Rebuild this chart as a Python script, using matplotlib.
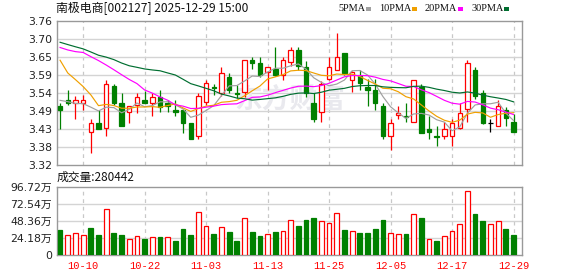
import matplotlib
matplotlib.use("Agg")
import matplotlib.pyplot as plt
import numpy as np

# ---- data ---------------------------------------------------------------
dates = ["09-29", "09-30", "10-09", "10-10", "10-13", "10-14", "10-15", "10-16", "10-17", "10-20",
         "10-21", "10-22", "10-23", "10-24", "10-27", "10-28", "10-29", "10-30", "10-31", "11-03",
         "11-04", "11-05", "11-06", "11-07", "11-10", "11-11", "11-12", "11-13", "11-14", "11-17",
         "11-18", "11-19", "11-20", "11-21", "11-24", "11-25", "11-26", "11-27", "11-28", "12-01",
         "12-02", "12-03", "12-04", "12-05", "12-08", "12-09", "12-10", "12-11", "12-12", "12-15",
         "12-16", "12-17", "12-18", "12-19", "12-22", "12-23", "12-24", "12-25", "12-26", "12-29"]

opens = [3.500, 3.517, 3.510, 3.510, 3.419, 3.446, 3.431, 3.560, 3.507, 3.481,
         3.503, 3.518, 3.510, 3.528, 3.507, 3.487, 3.487, 3.446, 3.409, 3.511,
         3.558, 3.540, 3.587, 3.538, 3.541, 3.640, 3.632, 3.602, 3.611, 3.594,
         3.633, 3.670, 3.617, 3.507, 3.480, 3.582, 3.610, 3.662, 3.580, 3.590,
         3.558, 3.549, 3.500, 3.409, 3.471, 3.469, 3.449, 3.558, 3.430, 3.407,
         3.409, 3.409, 3.431, 3.490, 3.609, 3.538, 3.447, 3.439, 3.487, 3.449]
highs = [3.508, 3.548, 3.529, 3.534, 3.459, 3.486, 3.578, 3.566, 3.538, 3.500,
         3.538, 3.545, 3.538, 3.548, 3.518, 3.518, 3.487, 3.446, 3.538, 3.580,
         3.567, 3.619, 3.599, 3.564, 3.641, 3.650, 3.650, 3.619, 3.680, 3.648,
         3.680, 3.680, 3.638, 3.538, 3.575, 3.648, 3.723, 3.662, 3.606, 3.608,
         3.582, 3.582, 3.510, 3.459, 3.500, 3.508, 3.580, 3.568, 3.470, 3.437,
         3.449, 3.459, 3.507, 3.640, 3.619, 3.548, 3.459, 3.518, 3.497, 3.475]
lows = [3.430, 3.501, 3.460, 3.488, 3.357, 3.430, 3.408, 3.503, 3.437, 3.448,
        3.479, 3.508, 3.469, 3.480, 3.480, 3.470, 3.418, 3.399, 3.400, 3.502,
        3.532, 3.530, 3.538, 3.524, 3.528, 3.612, 3.588, 3.548, 3.590, 3.579,
        3.622, 3.609, 3.528, 3.449, 3.449, 3.579, 3.610, 3.593, 3.541, 3.549,
        3.500, 3.488, 3.400, 3.366, 3.459, 3.449, 3.449, 3.418, 3.400, 3.378,
        3.400, 3.378, 3.430, 3.449, 3.521, 3.445, 3.419, 3.437, 3.439, 3.419]
closes = [3.488, 3.510, 3.517, 3.518, 3.446, 3.430, 3.568, 3.510, 3.439, 3.498,
          3.528, 3.510, 3.528, 3.496, 3.500, 3.480, 3.448, 3.400, 3.530, 3.570,
          3.555, 3.601, 3.548, 3.535, 3.639, 3.632, 3.593, 3.617, 3.593, 3.639,
          3.669, 3.621, 3.538, 3.461, 3.568, 3.617, 3.648, 3.600, 3.603, 3.571,
          3.549, 3.510, 3.409, 3.446, 3.477, 3.465, 3.578, 3.418, 3.421, 3.405,
          3.429, 3.446, 3.477, 3.630, 3.531, 3.446, 3.447, 3.500, 3.463, 3.419]
# volume in lots (手)
volumes = [354000, 278000, 307000, 278000, 382000, 283000, 651000, 311000, 283000, 222000,
           264000, 226000, 250000, 255000, 255000, 198000, 368000, 283000, 604000, 406000,
           297000, 396000, 326000, 198000, 524000, 326000, 269000, 293000, 326000, 335000,
           491000, 410000, 495000, 524000, 477000, 448000, 590000, 354000, 335000, 311000,
           311000, 368000, 495000, 307000, 293000, 297000, 576000, 524000, 222000, 198000,
           264000, 335000, 434000, 901000, 580000, 477000, 434000, 477000, 368000, 280442]
# closes of the 29 sessions before 09-29, seeding the moving averages
prior_closes = [3.72, 3.72, 3.71, 3.73, 3.73, 3.74, 3.74, 3.75, 3.75, 3.67,
                3.66, 3.62, 3.57, 3.70, 3.67, 3.84, 3.80, 3.74, 3.79, 3.78,
                3.90, 3.72, 3.73, 3.70, 3.76,
                3.53, 3.545, 3.52, 3.50]

price_ticks = [3.32, 3.375, 3.43, 3.485, 3.54, 3.595, 3.65, 3.705, 3.76]
price_tick_labels = ["3.32", "3.38", "3.43", "3.49", "3.54", "3.59", "3.65", "3.70", "3.76"]
volume_ticks = [0, 241800, 483600, 725400, 967200]
volume_tick_labels = ["0", "24.18万", "48.36万", "72.54万", "96.72万"]
date_labels = ["10-10", "10-22", "11-03", "11-13", "11-25", "12-05", "12-17", "12-29"]
ma_windows = [5, 10, 20, 30]
ma_names = ["5PMA", "10PMA", "20PMA", "30PMA"]

# ---- styling -------------------------------------------------------------
RED = "#ff0000"
GREEN = "#008000"
GRID = "#d4d4d4"
SPINE = "#999999"
ma_colors = ["#a0a0a0", "#f0a000", "#ff00ff", "#006e30"]
CJK = ["Noto Sans CJK SC", "DejaVu Sans"]
NUM = ["DejaVu Sans", "Noto Sans CJK SC"]

o = np.array(opens)
h = np.array(highs)
l = np.array(lows)
c = np.array(closes)
v = np.array(volumes)
n = len(c)
x = np.arange(n)

# simple moving averages of the close
full = np.concatenate([prior_closes, c])
off = len(prior_closes)
mas = []
for w in ma_windows:
    mas.append(np.array([full[off + i - w + 1: off + i + 1].mean() for i in range(n)]))

fig = plt.figure(figsize=(5.78, 2.76), dpi=100)
fig.patch.set_facecolor("white")

ax = fig.add_axes([57 / 578, 1 - 164.7 / 276, 465 / 578, 144 / 276])
axv = fig.add_axes([57 / 578, 1 - 255 / 276, 465 / 578, 68.3 / 276])

tick_idx = [dates.index(d) for d in date_labels]

for a in (ax, axv):
    a.set_xlim(-0.4, 60.1)
    for s in a.spines.values():
        s.set_color(SPINE)
        s.set_linewidth(1.0)
    a.tick_params(length=0)
    for i in tick_idx:
        a.axvline(i, color="#c8c8c8", lw=0.9, dashes=(3, 3), zorder=0)

# price panel
ax.set_ylim(3.32, 3.76)
ax.set_yticks(price_ticks)
ax.set_yticklabels(price_tick_labels, fontsize=7.8, color="#222222", family=NUM)
ax.set_xticks([])
for t in price_ticks[1:-1]:
    ax.axhline(t, color=GRID, lw=1.0, zorder=0)

ax.text(0.5, 0.45, "东方财富", transform=ax.transAxes, ha="center", va="center",
        fontsize=20, color="#e9e9ee", family=CJK, fontweight="bold", zorder=0.5)

up = c > o
down = c < o
flat = c == o
body_w = 0.58
ax.vlines(x[up], l[up], h[up], color=RED, lw=0.9, zorder=2)
ax.vlines(x[down], l[down], h[down], color=GREEN, lw=0.9, zorder=2)
ax.vlines(x[flat], l[flat], h[flat], color="black", lw=0.9, zorder=2)
ax.bar(x[up], (c - o)[up], bottom=o[up], width=body_w, facecolor="white",
       edgecolor=RED, lw=0.9, zorder=3)
ax.bar(x[down], (o - c)[down], bottom=c[down], width=body_w, facecolor=GREEN,
       edgecolor=GREEN, lw=0.9, zorder=3)
ax.hlines(c[flat], x[flat] - body_w / 2, x[flat] + body_w / 2, color="black", lw=0.9, zorder=3)

for m, col in zip(mas, ma_colors):
    ax.plot(x, m, color=col, lw=0.85, zorder=4)

# volume panel: red when the close is not below the previous close
prev = np.concatenate([[prior_closes[-1]], c[:-1]])
vol_up = c >= prev
axv.set_ylim(0, volume_ticks[-1])
axv.set_yticks(volume_ticks)
axv.set_yticklabels(volume_tick_labels, fontsize=7.8, color="#222222", family=NUM)
for t in volume_ticks[1:-1]:
    axv.axhline(t, color=GRID, lw=1.0, zorder=0)
axv.bar(x[vol_up], v[vol_up], width=0.62, facecolor="white", edgecolor=RED, lw=0.9, zorder=3)
axv.bar(x[~vol_up], v[~vol_up], width=0.62, facecolor=GREEN, edgecolor=GREEN, lw=0.9, zorder=3)
axv.set_xticks(tick_idx)
axv.set_xticklabels(date_labels, fontsize=7.5, color=RED, family=["Liberation Mono"])
axv.tick_params(axis="x", pad=4)

# headers
fig.text(56 / 578, 1 - 8 / 276, "南极电商[002127] 2025-12-29 15:00", ha="left", va="center",
         fontsize=8.6, family=CJK, color="#111111")
fig.text(57 / 578, 1 - 177 / 276, "成交量:%d" % volumes[-1], ha="left", va="center",
         fontsize=8.5, family=CJK, color="#111111")

# moving-average legend with colour chips
lx = 338
name_width = {"5PMA": 25, "10PMA": 30, "20PMA": 30, "30PMA": 30}
for name, col in zip(ma_names, ma_colors):
    fig.text(lx / 578, 1 - 8.5 / 276, name, ha="left", va="center", fontsize=7.4,
             family=["Liberation Serif"], color="#111111")
    wpx = name_width[name]
    fig.patches.append(plt.Rectangle(((lx + wpx + 3) / 578, 1 - 10.5 / 276), 5 / 578, 4 / 276,
                                     transform=fig.transFigure, facecolor=col, edgecolor="none"))
    lx += wpx + 16

fig.savefig("out.png", dpi=100, facecolor="white")
